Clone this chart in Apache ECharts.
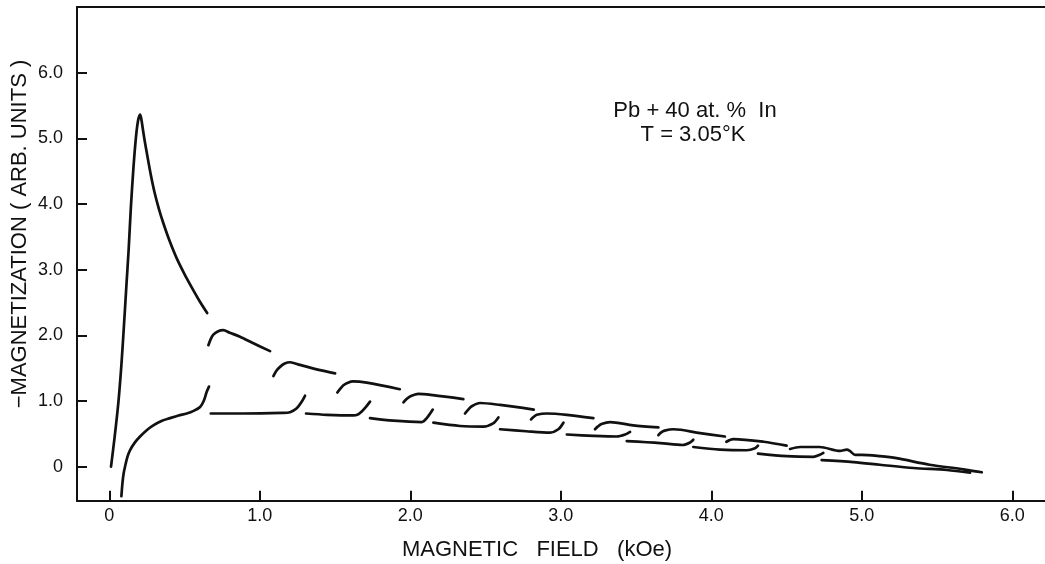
<!DOCTYPE html>
<html>
<head>
<meta charset="utf-8">
<script src="https://cdn.jsdelivr.net/npm/echarts@6/dist/echarts.min.js"></script>
<style>
    html, body { margin: 0; padding: 0; background: #fff; overflow: hidden; }
    #chart { width: 1045px; height: 564px; }
</style>
</head>
<body>
<div id="chart"></div>
<script>
// axis ranges and tick labels (x range runs past the right edge of the page, as in the scan)
var xMin = -0.215
var xMax = 6.6
var yMin = -0.52
var yMax = 7.0
var xTicks = [0, 1, 2, 3, 4, 5, 6]
var yTicks = [0, 1, 2, 3, 4, 5, 6]

// solid curve: rise from 0 to the peak and fall to ~0.65 kOe
var peakBranch = [
    [0.011, 0.00], [0.035, 0.45], [0.06, 0.98], [0.08, 1.55], [0.097, 2.15], [0.113, 2.75],
    [0.128, 3.30], [0.143, 3.95], [0.16, 4.55], [0.176, 5.00], [0.19, 5.26], [0.204, 5.36],
    [0.212, 5.30], [0.222, 5.15], [0.235, 4.96], [0.252, 4.74], [0.275, 4.45], [0.30, 4.18],
    [0.33, 3.92], [0.36, 3.70], [0.40, 3.44], [0.45, 3.16], [0.50, 2.93], [0.55, 2.72],
    [0.60, 2.52], [0.65, 2.34]
]

// solid curve from below zero up to ~0.66 kOe
var lowerRise = [
    [0.080, -0.45], [0.087, -0.25], [0.095, -0.10], [0.104, 0.00], [0.12, 0.15], [0.137, 0.25],
    [0.17, 0.37], [0.204, 0.46], [0.25, 0.56], [0.292, 0.63], [0.35, 0.70], [0.403, 0.74],
    [0.46, 0.78], [0.514, 0.81], [0.56, 0.85], [0.603, 0.91], [0.627, 1.00], [0.647, 1.14], [0.662, 1.22]
]

// upper branch pieces
var upperSteps = [
    [[0.658, 1.85], [0.675, 1.95], [0.691, 2.01], [0.72, 2.06], [0.757, 2.08], [0.80, 2.04], [0.868, 1.98], [0.957, 1.88], [1.068, 1.76]],
    [[1.09, 1.38], [1.11, 1.46], [1.134, 1.52], [1.165, 1.57], [1.2, 1.59], [1.267, 1.55], [1.4, 1.47], [1.5, 1.42]],
    [[1.515, 1.13], [1.535, 1.19], [1.555, 1.24], [1.585, 1.28], [1.62, 1.30], [1.71, 1.28], [1.93, 1.18]],
    [[1.954, 0.98], [1.975, 1.03], [1.998, 1.07], [2.053, 1.11], [2.15, 1.09], [2.352, 1.03]],
    [[2.363, 0.81], [2.385, 0.87], [2.408, 0.92], [2.463, 0.97], [2.596, 0.94], [2.82, 0.87]],
    [[2.802, 0.72], [2.82, 0.76], [2.84, 0.79], [2.906, 0.81], [3.04, 0.79], [3.216, 0.74]],
    [[3.227, 0.57], [3.245, 0.61], [3.27, 0.65], [3.327, 0.68], [3.48, 0.63], [3.648, 0.60]],
    [[3.648, 0.48], [3.665, 0.52], [3.69, 0.55], [3.75, 0.57], [3.925, 0.51], [4.09, 0.46]],
    [[4.10, 0.38], [4.146, 0.42], [4.346, 0.38], [4.50, 0.32]],
    [[4.523, 0.27], [4.59, 0.30], [4.72, 0.30], [4.855, 0.24], [4.90, 0.26], [4.92, 0.24], [4.956, 0.18],
        [5.0, 0.18], [5.12, 0.16], [5.23, 0.13], [5.45, 0.03], [5.676, -0.04], [5.797, -0.085]]
]

// lower branch pieces
var lowerSteps = [
    [[0.674, 0.81], [0.89, 0.81], [1.15, 0.82], [1.2, 0.83], [1.245, 0.89], [1.278, 0.99], [1.30, 1.08]],
    [[1.307, 0.81], [1.445, 0.79], [1.621, 0.78], [1.655, 0.80], [1.677, 0.84], [1.705, 0.91], [1.732, 0.99]],
    [[1.732, 0.74], [1.887, 0.70], [2.076, 0.68], [2.109, 0.74], [2.149, 0.87]],
    [[2.153, 0.67], [2.33, 0.62], [2.485, 0.61], [2.55, 0.66], [2.585, 0.75]],
    [[2.596, 0.57], [2.77, 0.54], [2.928, 0.52], [2.983, 0.57], [3.017, 0.67]],
    [[3.04, 0.49], [3.216, 0.47], [3.371, 0.46], [3.427, 0.49], [3.46, 0.53]],
    [[3.438, 0.39], [3.66, 0.36], [3.81, 0.33], [3.86, 0.37], [3.88, 0.41]],
    [[3.88, 0.30], [4.058, 0.26], [4.235, 0.25], [4.29, 0.28], [4.31, 0.32]],
    [[4.31, 0.20], [4.50, 0.16], [4.678, 0.15], [4.72, 0.18], [4.744, 0.21]],
    [[4.733, 0.10], [4.944, 0.07], [5.12, 0.03], [5.343, -0.02], [5.565, -0.05], [5.719, -0.09]]
]

var ink = '#111'
var font = 'Liberation Sans, Arial, sans-serif'

// plot box in pixels
var boxLeft = 77
var boxTop = 7
var pxPerX = 150.5
var pxPerY = 65.67
var boxW = (xMax - xMin) * pxPerX
var boxH = (yMax - yMin) * pxPerY
var xLast = xTicks[xTicks.length - 1]
var yLast = yTicks[yTicks.length - 1]

function curve (data) {
    return {
        type: 'line',
        data: data,
        xAxisIndex: 0,
        yAxisIndex: 0,
        smooth: 0.3,
        showSymbol: false,
        silent: true,
        lineStyle: { color: ink, width: 2.7, cap: 'round', join: 'round' }
    }
}

var series = [curve(peakBranch), curve(lowerRise)]
upperSteps.forEach(function (seg) { series.push(curve(seg)) })
lowerSteps.forEach(function (seg) { series.push(curve(seg)) })

function tickLabel (v) {
    return v === 0 ? '0' : v.toFixed(1)
}

function note (text, x, y, rotation) {
    return {
        type: 'text',
        x: x,
        y: y,
        rotation: rotation || 0,
        style: {
            text: text,
            fill: ink,
            font: '22px ' + font,
            textAlign: 'center',
            textVerticalAlign: 'middle',
            align: 'center',
            verticalAlign: 'middle'
        }
    }
}

var hidden = { type: 'value', show: false }
var lineStyle = { show: true, onZero: false, lineStyle: { color: ink, width: 2 } }
var tickStyle = { show: true, inside: true, length: 10, lineStyle: { color: ink, width: 2 } }
var labelStyle = { color: ink, fontSize: 18, fontFamily: font, formatter: tickLabel }

var myChart = echarts.init(document.getElementById('chart'))
var option = {
    backgroundColor: '#fff',
    animation: false,
    grid: [
        // data grid
        { left: boxLeft, top: boxTop, width: boxW, height: boxH, outerBoundsMode: 'none' },
        // y ticks: 0 .. 6 only
        { left: boxLeft, top: boxTop + (yMax - yLast) * pxPerY, width: boxW, height: yLast * pxPerY, outerBoundsMode: 'none' },
        // x ticks: 0 .. 6 only
        { left: boxLeft - xMin * pxPerX, top: boxTop, width: xLast * pxPerX, height: boxH, outerBoundsMode: 'none' }
    ],
    xAxis: [
        {
            type: 'value', gridIndex: 0, min: xMin, max: xMax,
            axisLine: lineStyle,
            axisTick: { show: false }, axisLabel: { show: false }, splitLine: { show: false }
        },
        Object.assign({ gridIndex: 1 }, hidden),
        {
            type: 'value', gridIndex: 2, min: 0, max: xLast, interval: 1,
            axisLine: lineStyle,
            axisTick: tickStyle,
            axisLabel: Object.assign({ margin: 6 }, labelStyle),
            splitLine: { show: false }
        },
        // top frame line
        {
            type: 'value', gridIndex: 0, position: 'top', min: xMin, max: xMax,
            axisLine: lineStyle,
            axisTick: { show: false }, axisLabel: { show: false }, splitLine: { show: false }
        }
    ],
    yAxis: [
        {
            type: 'value', gridIndex: 0, min: yMin, max: yMax,
            axisLine: lineStyle,
            axisTick: { show: false }, axisLabel: { show: false }, splitLine: { show: false }
        },
        {
            type: 'value', gridIndex: 1, min: 0, max: yLast, interval: 1,
            axisLine: lineStyle,
            axisTick: tickStyle,
            axisLabel: Object.assign({ margin: 14 }, labelStyle),
            splitLine: { show: false }
        },
        Object.assign({ gridIndex: 2 }, hidden)
    ],
    graphic: [
        note('\u2212MAGNETIZATION ( ARB. UNITS )', 20, 234, Math.PI / 2),
        note('MAGNETIC   FIELD   (kOe)', 537, 550),
        note('Pb + 40 at. %  In', 695, 111),
        note('T = 3.05\u00b0K', 693, 135)
    ],
    series: series
}
myChart.setOption(option)
</script>
</body>
</html>
